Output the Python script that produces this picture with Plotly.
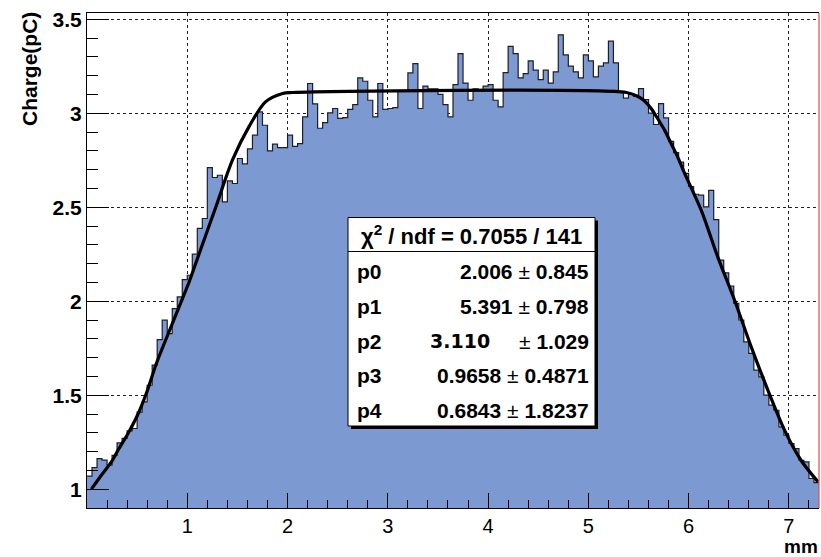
import numpy as np
import plotly.graph_objects as go

# ---------------- data ----------------
bin_width = 0.05
x_start = 0.0
charge = [
    1.07, 1.115, 1.163, 1.155, 1.128, 1.18, 1.246, 1.27, 1.31, 1.323,
    1.41, 1.465, 1.553, 1.66, 1.796, 1.899, 1.828, 1.961, 2.023, 2.115,
    2.138, 2.25, 2.387, 2.44, 2.71, 2.658, 2.67, 2.528, 2.64, 2.626,
    2.759, 2.73, 2.81, 2.883, 3.007, 2.936, 2.80, 2.835, 2.817, 2.817,
    2.883, 2.824, 2.838, 2.98, 3.158, 3.05, 2.92, 2.95, 3.002, 3.025,
    2.972, 2.977, 3.02, 3.046, 3.188, 3.17, 3.069, 2.98, 3.158, 3.02,
    3.025, 3.03, 3.117, 3.117, 3.214, 3.264, 3.025, 3.144, 3.13, 3.13,
    3.10, 3.046, 2.98, 3.152, 3.317, 3.16, 3.069, 3.13, 3.12, 3.144,
    3.152, 3.069, 3.034, 3.216, 3.356, 3.317, 3.188, 3.21, 3.278, 3.229,
    3.179, 3.229, 3.16, 3.22, 3.417, 3.31, 3.25, 3.22, 3.188, 3.31,
    3.278, 3.193, 3.25, 3.268, 3.383, 3.268, 3.11, 3.08, 3.10, 3.09,
    3.131, 3.073, 3.0, 2.94, 3.051, 2.975, 2.85, 2.79, 2.74, 2.68,
    2.61, 2.569, 2.564, 2.502, 2.59, 2.434, 2.218, 2.151, 2.08, 1.988,
    1.90, 1.784, 1.722, 1.633, 1.597, 1.50, 1.447, 1.42, 1.331, 1.287,
    1.243, 1.216, 1.154, 1.145, 1.057, 1.035,
]

fit_x = [0.044, 0.143, 0.243, 0.309, 0.409, 0.509, 0.592, 0.692, 0.858, 1.024,
         1.12, 1.284, 1.45, 1.617, 1.78, 1.95, 2.05, 5.38, 5.49, 5.56,
         5.626, 5.69, 5.76, 5.825, 5.89, 5.96, 6.125, 6.29, 6.458, 6.624,
         6.79, 6.956, 7.12, 7.29]
fit_y = [1.00, 1.074, 1.145, 1.207, 1.296, 1.40, 1.51, 1.669, 1.89, 2.11,
         2.255, 2.50, 2.75, 2.93, 3.06, 3.105, 3.11, 3.11, 3.09, 3.065,
         3.025, 2.972, 2.91, 2.839, 2.768, 2.68, 2.484, 2.236, 2.005, 1.757,
         1.527, 1.314, 1.154, 1.039]

x_ticks = [1, 2, 3, 4, 5, 6, 7]
y_ticks = [1.0, 1.5, 2.0, 2.5, 3.0, 3.5]
y_tick_text = ["1", "1.5", "2", "2.5", "3", "3.5"]
x_range = [0.0, 7.3]
y_range = [0.9, 3.533]

chi2_text = "χ<sup>2</sup> / ndf = 0.7055 / 141"
par_names = ["p0", "p1", "p2", "p3", "p4"]
par_values = ["2.006", "5.391", "3.110", "0.9658", "0.6843"]
par_errors = ["0.845", "0.798", "1.029", "0.4871", "1.8237"]

x_title = "mm"
y_title = "Charge(pC)"

# ---------------- figure ----------------
W, H = 821, 557
ML, MR, MT, MB = 87, 2, 13, 49
PW, PH = W - ML - MR, H - MT - MB

def px_x(p):
    return (p - ML) / PW

def px_y(p):
    return (H - MB - p) / PH

edges = x_start + bin_width * np.arange(len(charge) + 1)
step_y = list(charge) + [charge[-1]]

FONT = "Liberation Sans, Arial, sans-serif"

fig = go.Figure()
fig.add_trace(go.Scatter(
    x=edges, y=step_y, mode="lines",
    line=dict(shape="hv", color="#1e1e28", width=1.2),
    fill="tozeroy", fillcolor="#7D99D1",
    hoverinfo="skip", showlegend=False,
))
fig.add_trace(go.Scatter(
    x=fit_x, y=fit_y, mode="lines",
    line=dict(shape="spline", smoothing=0.8, color="black", width=3.2),
    hoverinfo="skip", showlegend=False,
))

fig.update_layout(
    width=W, height=H,
    margin=dict(l=ML, r=MR, t=MT, b=MB),
    paper_bgcolor="white", plot_bgcolor="white",
    font=dict(family=FONT, color="black"),
    xaxis=dict(
        range=x_range, tickmode="array", tickvals=x_ticks,
        ticks="inside", ticklen=15, tickwidth=1, tickcolor="black",
        showline=True, linecolor="black", linewidth=1, mirror=True,
        showgrid=True, gridcolor="#222", gridwidth=1, griddash="dot",
        zeroline=False,
        tickfont=dict(family=FONT, size=20, color="black"),
        minor=dict(tickmode="linear", tick0=0, dtick=0.2, ticks="inside",
                   ticklen=8, tickcolor="black", tickwidth=1, showgrid=False),
    ),
    yaxis=dict(
        range=y_range, tickmode="array", tickvals=y_ticks,
        ticktext=y_tick_text,
        ticks="inside", ticklen=22, tickwidth=1, tickcolor="black",
        showline=True, linecolor="black", linewidth=1, mirror=False,
        showgrid=True, gridcolor="#222", gridwidth=1, griddash="dot",
        zeroline=False,
        tickfont=dict(family=FONT, size=21, color="black", weight="bold"),
        minor=dict(tickmode="linear", tick0=0, dtick=0.1, ticks="inside",
                   ticklen=11, tickcolor="black", tickwidth=1, showgrid=False),
    ),
)

shapes = []
# red right frame edge
shapes.append(dict(type="line", xref="paper", yref="paper", x0=1, x1=1, y0=0, y1=1,
                   line=dict(color="#F04545", width=1.2), layer="above"))
# stats box shadow and box
bx0, bx1, by0, by1 = 348, 595, 217.5, 426
shapes.append(dict(type="rect", xref="paper", yref="paper",
                   x0=px_x(bx0 + 3), x1=px_x(bx1 + 3), y0=px_y(by1 + 3), y1=px_y(by0 + 3),
                   fillcolor="black", line=dict(width=0), layer="above"))
shapes.append(dict(type="rect", xref="paper", yref="paper",
                   x0=px_x(bx0), x1=px_x(bx1), y0=px_y(by1), y1=px_y(by0),
                   fillcolor="white", line=dict(color="black", width=1), layer="above"))
shapes.append(dict(type="line", xref="paper", yref="paper",
                   x0=px_x(bx0), x1=px_x(bx1), y0=px_y(251.5), y1=px_y(251.5),
                   line=dict(color="black", width=1), layer="above"))
fig.update_layout(shapes=shapes)

ann = []
ann.append(dict(xref="paper", yref="paper", x=px_x((bx0 + bx1) / 2), y=px_y(235),
                text=chi2_text, showarrow=False, xanchor="center", yanchor="middle",
                font=dict(family=FONT, size=22, color="black", weight="bold")))
row_y = [271.7, 306.3, 341.0, 375.6, 410.2]
for name, val, err, ry in zip(par_names, par_values, par_errors, row_y):
    ann.append(dict(xref="paper", yref="paper", x=px_x(355), y=px_y(ry),
                    text=name, showarrow=False, xanchor="left", yanchor="middle",
                    font=dict(family=FONT, size=21, color="black", weight="bold")))
    if name == "p2":
        ann.append(dict(xref="paper", yref="paper", x=px_x(460), y=px_y(ry),
                        text="<b>" + val + "</b>", showarrow=False,
                        xanchor="center", yanchor="middle",
                        font=dict(family="DejaVu Sans, sans-serif", size=19, color="black")))
        txt = "± <b>" + err + "</b>"
    else:
        txt = "<b>" + val + "</b> ± <b>" + err + "</b>"
    ann.append(dict(xref="paper", yref="paper", x=px_x(591), y=px_y(ry),
                    text=txt, showarrow=False, xanchor="right", yanchor="middle",
                    font=dict(family=FONT, size=21, color="black")))
# axis titles
ann.append(dict(xref="paper", yref="paper", x=px_x(820), y=px_y(546),
                text=x_title, showarrow=False, xanchor="right", yanchor="middle",
                font=dict(family=FONT, size=19, color="black", weight="bold")))
ann.append(dict(xref="paper", yref="paper", x=px_x(30), y=px_y(69),
                text=y_title, showarrow=False, textangle=-90,
                xanchor="center", yanchor="middle",
                font=dict(family=FONT, size=21, color="black", weight="bold")))
fig.update_layout(annotations=ann)

fig.write_html("out.html")
